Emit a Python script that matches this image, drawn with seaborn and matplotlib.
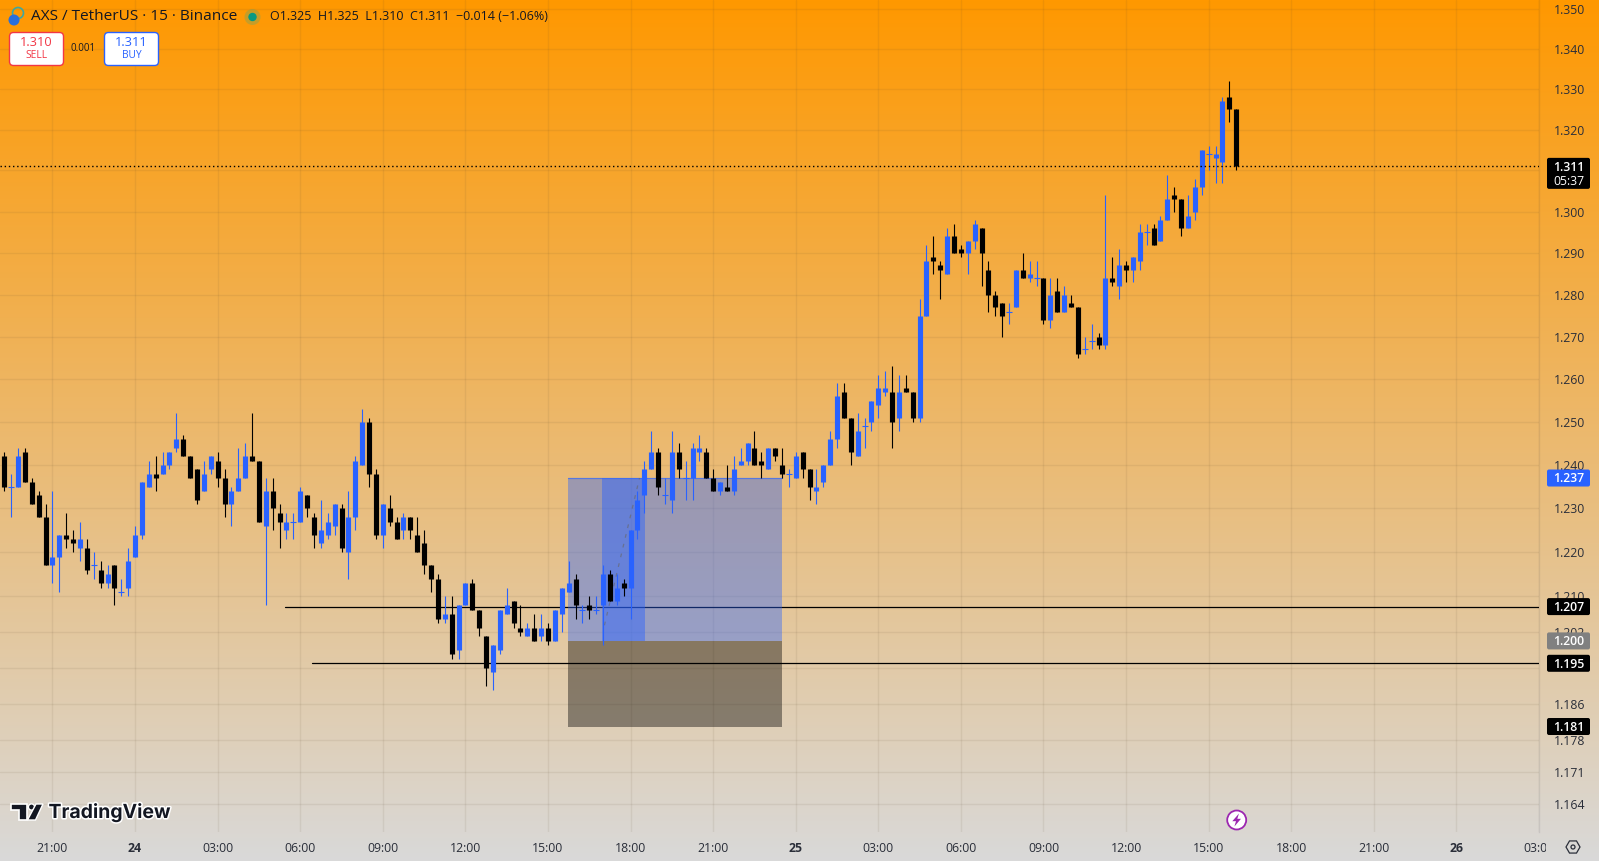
# AXS / TetherUS 15 minute candles, redrawn from a TradingView screenshot
import numpy as np
import pandas as pd
import matplotlib
matplotlib.use("Agg")
import matplotlib.pyplot as plt
import matplotlib.patches as mpatches
import matplotlib.patheffects as pe
from matplotlib.ticker import FixedLocator, FixedFormatter, NullLocator
from matplotlib.transforms import Bbox
import seaborn as sns

# Candle values
opens = [1.242,1.235,1.235,1.243,1.236,1.233,1.228,1.217,1.219,1.224,1.223,1.221,1.221,1.217,1.216,1.213,1.217,1.211,1.212,1.219,
         1.224,1.235,1.238,1.238,1.240,1.244,1.246,1.242,1.239,1.234,1.239,1.241,1.237,1.231,1.234,1.237,1.242,1.241,1.226,1.234,
         1.229,1.225,1.227,1.227,1.233,1.228,1.222,1.224,1.226,1.230,1.220,1.228,1.240,1.250,1.238,1.224,1.230,1.227,1.225,1.228,
         1.224,1.222,1.217,1.214,1.205,1.206,1.198,1.208,1.213,1.207,1.201,1.193,1.198,1.206,1.209,1.203,1.201,1.203,1.201,1.203,
         1.200,1.206,1.211,1.214,1.207,1.208,1.207,1.208,1.215,1.209,1.213,1.212,1.225,1.233,1.239,1.243,1.233,1.232,1.243,1.237,
         1.237,1.243,1.243,1.237,1.234,1.235,1.234,1.240,1.241,1.244,1.241,1.239,1.244,1.240,1.238,1.237,1.243,1.239,1.234,1.236,
         1.240,1.246,1.257,1.251,1.242,1.249,1.250,1.254,1.257,1.257,1.251,1.258,1.257,1.251,1.275,1.289,1.287,1.285,1.294,1.291,
         1.290,1.293,1.296,1.286,1.280,1.278,1.276,1.277,1.286,1.284,1.284,1.284,1.274,1.281,1.276,1.278,1.277,1.267,1.269,1.270,
         1.268,1.284,1.282,1.287,1.286,1.288,1.295,1.296,1.293,1.298,1.304,1.303,1.296,1.300,1.306,1.314,1.313,1.312,1.328,1.325]
highs = [1.243,1.238,1.244,1.244,1.237,1.234,1.231,1.234,1.224,1.229,1.225,1.227,1.223,1.220,1.218,1.217,1.217,1.214,1.221,1.226,
         1.236,1.241,1.242,1.243,1.243,1.252,1.247,1.242,1.239,1.241,1.242,1.243,1.239,1.235,1.244,1.245,1.252,1.241,1.237,1.237,
         1.231,1.229,1.229,1.235,1.233,1.229,1.232,1.229,1.231,1.231,1.234,1.242,1.253,1.251,1.239,1.231,1.233,1.228,1.229,1.228,
         1.228,1.225,1.217,1.215,1.210,1.210,1.208,1.213,1.214,1.207,1.201,1.199,1.207,1.212,1.209,1.208,1.204,1.206,1.206,1.204,
         1.207,1.212,1.218,1.215,1.208,1.210,1.210,1.217,1.216,1.215,1.214,1.225,1.234,1.241,1.248,1.244,1.237,1.248,1.245,1.241,
         1.245,1.247,1.244,1.239,1.236,1.240,1.242,1.244,1.245,1.248,1.243,1.244,1.244,1.244,1.239,1.243,1.243,1.239,1.239,1.240,
         1.248,1.259,1.259,1.251,1.252,1.251,1.255,1.261,1.262,1.263,1.261,1.261,1.257,1.279,1.292,1.294,1.288,1.296,1.297,1.292,
         1.293,1.298,1.296,1.288,1.281,1.278,1.278,1.286,1.290,1.288,1.288,1.284,1.284,1.284,1.282,1.280,1.277,1.270,1.273,1.271,
         1.304,1.289,1.291,1.288,1.289,1.297,1.297,1.297,1.299,1.309,1.306,1.303,1.304,1.308,1.315,1.316,1.316,1.328,1.332,1.325]
lows = [1.234,1.228,1.235,1.236,1.231,1.228,1.217,1.213,1.211,1.221,1.220,1.218,1.215,1.214,1.212,1.212,1.208,1.210,1.210,1.219,
        1.223,1.235,1.234,1.238,1.239,1.243,1.242,1.237,1.231,1.234,1.238,1.235,1.228,1.226,1.234,1.237,1.241,1.227,1.208,1.225,
        1.221,1.223,1.223,1.227,1.228,1.221,1.221,1.223,1.224,1.220,1.214,1.225,1.240,1.235,1.223,1.221,1.226,1.223,1.223,1.223,
        1.220,1.215,1.211,1.204,1.204,1.196,1.196,1.208,1.207,1.201,1.190,1.189,1.197,1.206,1.203,1.201,1.201,1.200,1.200,1.199,
        1.200,1.202,1.211,1.205,1.204,1.205,1.206,1.199,1.209,1.208,1.210,1.205,1.223,1.229,1.239,1.233,1.231,1.229,1.237,1.232,
        1.232,1.241,1.237,1.234,1.233,1.234,1.233,1.240,1.240,1.240,1.237,1.239,1.241,1.237,1.235,1.237,1.237,1.232,1.231,1.235,
        1.240,1.244,1.251,1.240,1.242,1.244,1.248,1.251,1.256,1.244,1.248,1.257,1.250,1.250,1.275,1.285,1.279,1.285,1.290,1.289,
        1.285,1.291,1.282,1.276,1.275,1.270,1.273,1.277,1.284,1.283,1.282,1.273,1.272,1.276,1.276,1.277,1.265,1.266,1.267,1.267,
        1.267,1.282,1.279,1.283,1.283,1.286,1.292,1.292,1.293,1.298,1.300,1.294,1.296,1.298,1.304,1.310,1.307,1.307,1.322,1.310]
closes = [1.235,1.235,1.242,1.236,1.231,1.228,1.217,1.219,1.224,1.223,1.222,1.223,1.216,1.217,1.213,1.215,1.212,1.211,1.218,1.224,
          1.236,1.238,1.237,1.240,1.243,1.246,1.242,1.237,1.232,1.238,1.242,1.237,1.231,1.234,1.237,1.242,1.241,1.227,1.234,1.230,
          1.227,1.227,1.227,1.234,1.230,1.224,1.225,1.227,1.231,1.221,1.228,1.241,1.250,1.238,1.224,1.231,1.227,1.223,1.228,1.225,
          1.220,1.217,1.214,1.205,1.206,1.197,1.208,1.213,1.207,1.203,1.194,1.199,1.207,1.208,1.204,1.202,1.203,1.200,1.203,1.200,
          1.207,1.212,1.213,1.208,1.207,1.207,1.207,1.215,1.209,1.212,1.212,1.225,1.232,1.239,1.243,1.235,1.233,1.243,1.239,1.237,
          1.244,1.244,1.237,1.234,1.236,1.234,1.239,1.241,1.245,1.240,1.240,1.244,1.242,1.238,1.238,1.242,1.239,1.235,1.235,1.240,
          1.246,1.256,1.251,1.243,1.248,1.249,1.255,1.258,1.258,1.250,1.257,1.257,1.251,1.275,1.288,1.288,1.286,1.294,1.290,1.290,
          1.293,1.297,1.290,1.280,1.277,1.275,1.276,1.286,1.284,1.285,1.284,1.274,1.280,1.276,1.280,1.277,1.266,1.267,1.269,1.268,
          1.284,1.283,1.287,1.286,1.289,1.295,1.295,1.292,1.298,1.303,1.303,1.296,1.299,1.306,1.315,1.314,1.314,1.327,1.325,1.311]

# Price scale
price_ticks = [1.350,1.340,1.330,1.320,1.310,1.300,1.290,1.280,1.270,1.260,1.250,1.240,1.230,1.220,1.210,1.202,1.194,1.186,1.178,1.171,1.164]
price_labels = ["1.350","1.340","1.330","1.320","","1.300","1.290","1.280","1.270","1.260","1.250","1.240","1.230","1.220","1.210","1.202","","1.186","1.178","1.171","1.164"]

# Time scale, positions are candle numbers
time_ticks = [7,19,31,43,55,67,79,91,103,115,127,139,151,163,175,187,199,211,223]
time_labels = ["21:00","24","03:00","06:00","09:00","12:00","15:00","18:00","21:00","25","03:00","06:00","09:00","12:00","15:00","18:00","21:00","26","03:00"]
day_labels = ["24","25","26"]

# Drawing tools on the chart
last_price = 1.311
entry_price = 1.237
mid_price = 1.200
stop_price = 1.181
line_prices = [1.2077, 1.195]
line_names = ["1.207", "1.195"]
line_starts = [40.8, 44.7]
tool_x = [81.9, 113.0]
range_x = [86.8, 93.05]
path_x = [87.2, 92.3]
path_y = [1.2035, 1.237]

BLUE = "#2962FF"
W, H = 1599, 861
AXIS_RIGHT, AXIS_BOTTOM = 1539, 832
FONT = "Open Sans"

sns.set_theme(style="white")
plt.rcParams["font.family"] = [FONT, "DejaVu Sans"]

fig = plt.figure(figsize=(W / 100, H / 100), dpi=100)

# Full height gradient behind everything
bg = fig.add_axes([0, 0, 1, 1], zorder=0)
top_col = np.array([255, 152, 0]) / 255
bot_col = np.array([217, 217, 217]) / 255
fade = np.linspace(0, 1, H)[:, None, None]
bg.imshow(top_col * (1 - fade) + bot_col * fade, aspect="auto", extent=[0, W, H, 0])
bg.axis("off")

ax = fig.add_axes([0, (H - AXIS_BOTTOM) / H, AXIS_RIGHT / W, AXIS_BOTTOM / H], zorder=1)
ax.set_facecolor("none")
ax.set_yscale("log")

# Candles in long form, wicks and bodies are vertical segments per candle
candles = pd.DataFrame({"i": range(len(opens)), "open": opens, "high": highs, "low": lows, "close": closes})
candles["side"] = np.where(candles["close"] >= candles["open"], "up", "down")
candles["top"] = candles[["open", "close"]].max(axis=1)
candles["bottom"] = candles[["open", "close"]].min(axis=1)
palette = {"up": BLUE, "down": "black"}

wicks = candles.melt(id_vars=["i", "side"], value_vars=["high", "low"], value_name="price")
sns.lineplot(data=wicks, x="i", y="price", units="i", estimator=None, hue="side", palette=palette,
             linewidth=0.8, legend=False, ax=ax, zorder=2, solid_capstyle="butt")

solid = candles[candles["open"] != candles["close"]]
bodies = solid.melt(id_vars=["i", "side"], value_vars=["top", "bottom"], value_name="price")
sns.lineplot(data=bodies, x="i", y="price", units="i", estimator=None, hue="side", palette=palette,
             linewidth=3.7, legend=False, ax=ax, zorder=2.1, solid_capstyle="butt")

# Open equals close, only a small dash
dojis = candles[candles["open"] == candles["close"]]
sns.scatterplot(data=dojis, x="i", y="open", marker="_", s=17, color=BLUE, linewidth=0.8, ax=ax, zorder=2.1)

# Horizontal lines and the long position tool
for price, start in zip(line_prices, line_starts):
    ax.plot([start, 300], [price, price], color="black", lw=0.9, zorder=1)
ax.axhline(last_price, color="black", lw=1, ls=(0, (1, 2)), zorder=3)

ax.fill_between(tool_x, mid_price, entry_price, color=BLUE, alpha=0.4, lw=0, zorder=1.5)
ax.fill_between(tool_x, stop_price, mid_price, color="black", alpha=0.4, lw=0, zorder=1.5)
ax.fill_between(range_x, mid_price, entry_price, color=BLUE, alpha=0.45, lw=0, zorder=1.6)
ax.plot(tool_x, [entry_price, entry_price], color=BLUE, alpha=0.6, lw=0.9, zorder=1.7)
ax.plot(path_x, path_y, color="#666666", alpha=0.6, lw=0.9, ls=(0, (3, 5)), zorder=1.8)

# Axes limits and ticks
ax.set_xlim(-0.6245, 222.9)
ax.set_ylim(1.158, 1.3523)
ax.set_xlabel("")
ax.set_ylabel("")
ax.yaxis.tick_right()
ax.yaxis.set_major_locator(FixedLocator(price_ticks))
ax.yaxis.set_major_formatter(FixedFormatter(price_labels))
ax.yaxis.set_minor_locator(NullLocator())
ax.set_xticks(time_ticks)
ax.set_xticklabels(time_labels)
ax.tick_params(axis="y", length=0, pad=10.5, labelsize=8.8, labelcolor="#2a2e39")
ax.tick_params(axis="x", length=0, pad=7, labelsize=8.8, labelcolor="#2a2e39")
ax.grid(True, color="#5a4a30", alpha=0.09, lw=1)
ax.set_axisbelow(True)
for name in ["top", "left", "bottom"]:
    ax.spines[name].set_visible(False)
ax.spines["right"].set_color("#2a2e39")
ax.spines["right"].set_alpha(0.1)
ax.spines["right"].set_linewidth(1)

# Last time label is cut off just past the price axis
clip = Bbox([[0, 0], [1546, H]])
for lab in ax.get_xticklabels():
    lab.set_clip_box(clip)
    lab.set_clip_on(True)
    if lab.get_text() in day_labels:
        lab.set_fontweight("bold")

# Overlay in picture pixels for the header, price boxes and logo
top = fig.add_axes([0, 0, 1, 1], zorder=2)
top.set_xlim(0, W)
top.set_ylim(H, 0)
top.axis("off")


def price_to_y(price):
    return H - ax.transData.transform((0, price))[1]


def price_box(price, color, text, sub=None):
    y = price_to_y(price)
    h = 17 if sub is None else 31
    top.add_patch(mpatches.FancyBboxPatch((1548, y - 7.5), 41, h - 2, boxstyle="round,pad=1,rounding_size=2",
                                          fc=color, ec="none", zorder=5))
    top.text(1568.5, y + 0.8, text, color="white", fontsize=8.8, fontweight="semibold", ha="center", va="center", zorder=6)
    if sub is not None:
        top.text(1568.5, y + 14.8, sub, color="white", fontsize=8.8, ha="center", va="center", zorder=6)


price_box(last_price, "black", "1.311", "05:37")
price_box(entry_price, BLUE, "1.237")
price_box(line_prices[0], "black", line_names[0])
price_box(mid_price, "#808080", "1.200")
price_box(line_prices[1], "black", line_names[1])
price_box(stop_price, "black", "1.181")

# Symbol header
top.add_patch(mpatches.Circle((18, 13), 5.5, fc="none", ec="#3fa7a0", lw=1.2))
top.add_patch(mpatches.Circle((14, 20), 5.5, fc="#2a6fdb", ec="none"))
top.text(31, 17, "AXS / TetherUS \u00b7 15 \u00b7 Binance", fontsize=11.05, color="#131722", va="center")
top.add_patch(mpatches.Circle((252.5, 17), 8, fc="#22ab94", alpha=0.25, ec="none"))
top.add_patch(mpatches.Circle((252.5, 17), 4.2, fc="#089981", ec="none"))
top.text(270, 17, "O1.325  H1.325  L1.310  C1.311  \u22120.014 (\u22121.06%)", fontsize=9.0, color="#131722", va="center")

# Sell and buy buttons
for x0, col, val, name in [(9.5, "#F23645", "1.310", "SELL"), (104.5, BLUE, "1.311", "BUY")]:
    top.add_patch(mpatches.FancyBboxPatch((x0 + 3, 35.5), 48, 27, boxstyle="round,pad=3,rounding_size=4",
                                          fc="white", ec=col, lw=1))
    top.text(x0 + 27, 42, val, color=col, fontsize=9.2, ha="center", va="center")
    top.text(x0 + 27, 56, name, color=col, fontsize=7.4, ha="center", va="center")
top.text(83.5, 48.5, "0.001", color="#131722", fontsize=7, ha="center", va="center")

# TradingView logo
halo = [pe.withStroke(linewidth=2.2, foreground="white")]
logo_parts = [
    mpatches.Polygon([(11, 804), (26.7, 804), (26.7, 820), (19, 820), (19, 810), (11, 810)], fc="#131722", ec="white", lw=1.2),
    mpatches.Circle((31.5, 807), 3.1, fc="#131722", ec="white", lw=1.0),
    mpatches.Polygon([(36, 804), (43, 804), (35.5, 820), (27.5, 820)], fc="#131722", ec="white", lw=1.0),
]
for part in logo_parts:
    top.add_patch(part)
top.text(48.5, 812.5, "TradingView", fontsize=14, fontweight="bold", family=["Inter", "DejaVu Sans"],
         color="#131722", va="center", path_effects=halo)

# Lightning badge under the last candle
top.add_patch(mpatches.Circle((1236.7, 820), 9.5, fc="white", ec="#9c27b0", lw=1.3))
bolt = [(1239, 813.5), (1232.3, 821.2), (1236, 821.2), (1234.4, 826.5), (1241, 818.8), (1237.3, 818.8)]
top.add_patch(mpatches.Polygon(bolt, fc="#9c27b0", ec="none"))

# Settings icon
top.add_patch(mpatches.RegularPolygon((1573, 847), 6, radius=7, orientation=np.pi / 2, fc="none", ec="#2a2e39", lw=0.9))
top.add_patch(mpatches.Circle((1573, 847), 2, fc="none", ec="#2a2e39", lw=0.9))

fig.savefig("out.png", dpi=100)
